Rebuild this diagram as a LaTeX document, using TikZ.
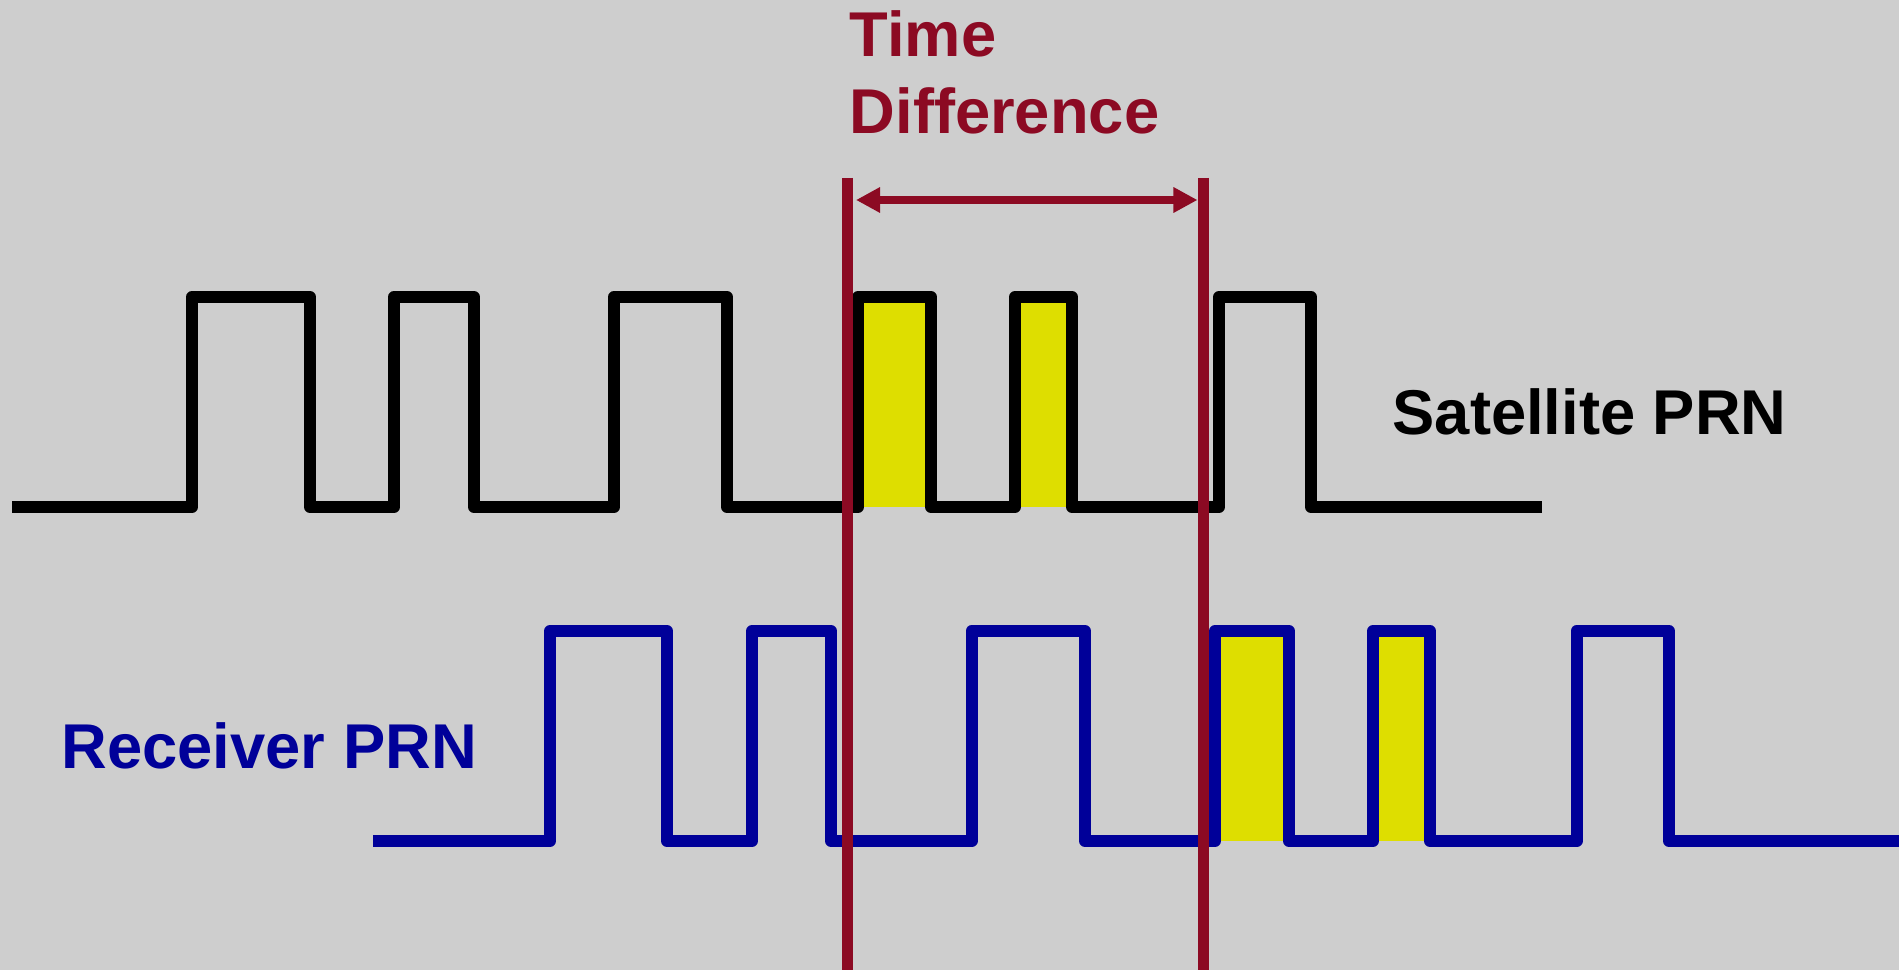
\documentclass[tikz,border=0pt]{standalone}
\usepackage{fontspec}
\setmainfont{Liberation Sans}
\usepackage{tikz}
\usetikzlibrary{arrows.meta,positioning}

\definecolor{bgGray}{RGB}{206,206,206}
\definecolor{prnRed}{RGB}{140,10,35}
\definecolor{prnBlue}{RGB}{0,0,153}
\definecolor{hiYellow}{RGB}{222,222,0}

\begin{document}
\begin{tikzpicture}[
  x=0.01cm, y=-0.01cm,
  wave/.style={line width=0.12cm, line join=round},
  satwave/.style={wave, black},
  recwave/.style={wave, prnBlue},
  chip/.style={fill=hiYellow},
  marker/.style={draw=prnRed, line width=0.11cm},
  span/.style={draw=prnRed, line width=0.075cm, {Triangle[length=0.24cm, width=0.24cm]}-{Triangle[length=0.24cm, width=0.24cm]}},
  label/.style={font=\bfseries\fontsize{18pt}{21.8pt}\selectfont, inner sep=0pt}
]
\fill[bgGray] (0,0) rectangle (1899,970);
\useasboundingbox (0,0) rectangle (1899,970);

% shaded chips
\fill[chip] (864,303) rectangle (925.5,507);
\fill[chip] (1021,303) rectangle (1066,507);
\fill[chip] (1221,637) rectangle (1283,841);
\fill[chip] (1378.5,637) rectangle (1424,841);

% satellite code
\draw[satwave] (12,507) -- (192,507) -- (192,297) -- (310,297) -- (310,507)
  -- (394,507) -- (394,297) -- (474,297) -- (474,507) -- (614,507) -- (614,297)
  -- (727,297) -- (727,507) -- (858,507) -- (858,297) -- (931,297) -- (931,507)
  -- (1015,507) -- (1015,297) -- (1072,297) -- (1072,507) -- (1219,507)
  -- (1219,297) -- (1311,297) -- (1311,507) -- (1542,507);

% receiver replica
\draw[recwave] (373,841) -- (550,841) -- (550,631) -- (667,631) -- (667,841)
  -- (752,841) -- (752,631) -- (831,631) -- (831,841) -- (971.5,841)
  -- (971.5,631) -- (1085,631) -- (1085,841) -- (1215,841) -- (1215,631)
  -- (1289,631) -- (1289,841) -- (1373,841) -- (1373,631) -- (1430,631)
  -- (1430,841) -- (1576.5,841) -- (1576.5,631) -- (1669,631) -- (1669,841)
  -- (1899,841);

\coordinate (leftTop) at (847.5,178);
\coordinate (leftBot) at (847.5,970);
\coordinate (rightTop) at (1203,178);
\coordinate (rightBot) at (1203,970);
\coordinate (spanL) at (856,200);
\coordinate (spanR) at (1197.5,200);

\draw[marker] (leftTop) -- (leftBot);
\draw[marker] (rightTop) -- (rightBot);
\draw[span] (spanL) -- (spanR);

\node[label, text=prnRed, align=left, anchor=north west] (tdiff) at (849,10) {Time\\Difference};
\node[label, anchor=base west] (satlabel) at (1392,435) {Satellite PRN};
\node[label, text=prnBlue, anchor=base west] (reclabel) at (61,768) {Receiver PRN};
\end{tikzpicture}
\end{document}
